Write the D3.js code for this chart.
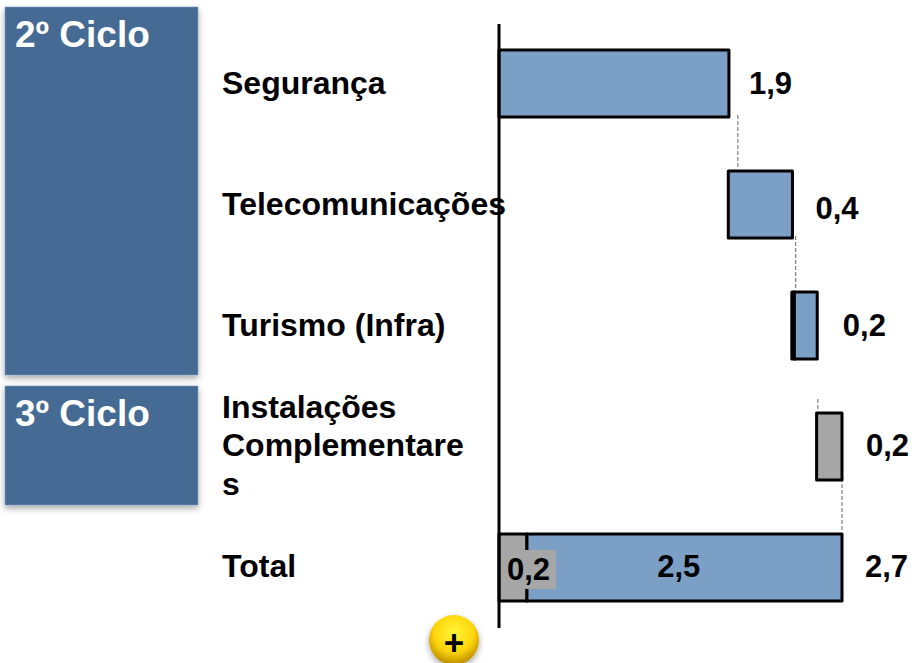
<!DOCTYPE html>
<html>
<head>
<meta charset="utf-8">
<script src="https://cdn.jsdelivr.net/npm/d3@7"></script>
<style>
  html, body { margin: 0; padding: 0; background: #fff; overflow: hidden; }
  text { font-family: "Liberation Sans", Arial, sans-serif; font-weight: bold; }
</style>
</head>
<body>
<div id="chart"></div>
<script>
// Data
const categories = ['Segurança', 'Telecomunicações', 'Turismo (Infra)', 'Instalações Complementares', 'Total'];
const categoryLines = [['Segurança'], ['Telecomunicações'], ['Turismo (Infra)'], ['Instalações', 'Complementare', 's'], ['Total']];
const valueLabels = ['1,9', '0,4', '0,2', '0,2', '2,7'];

// bar segments, in axis units as drawn (the drawn lengths do not quite follow the labels)
const segCategory = ['Segurança', 'Telecomunicações', 'Turismo (Infra)', 'Turismo (Infra)', 'Instalações Complementares', 'Total', 'Total'];
const segStart = [0, 1.805, 2.305, 2.325, 2.5, 0, 0.22];
const segEnd = [1.81, 2.31, 2.33, 2.505, 2.7, 0.22, 2.7];
const segType = ['blue', 'blue', 'dark', 'blue', 'gray', 'gray', 'blue'];

// dashed connectors between steps
const connectorValue = [1.88, 2.335, 2.51, 2.7];
const connectorFrom = ['Segurança', 'Telecomunicações', 'Turismo (Infra)', 'Instalações Complementares'];

const cycleNames = ['2º Ciclo', '3º Ciclo'];

const fills = { blue: '#7C9FC5', gray: '#A6A6A6', dark: '#000' };

const W = 914, H = 663;
const svg = d3.select('#chart').append('svg')
    .attr('width', W)
    .attr('height', H)
    .style('display', 'block');

const defs = svg.append('defs');

const shadow = defs.append('filter').attr('id', 'box-shadow')
    .attr('x', '-10%').attr('y', '-10%').attr('width', '120%').attr('height', '125%');
shadow.append('feDropShadow')
    .attr('dx', 0).attr('dy', 3).attr('stdDeviation', 3)
    .attr('flood-color', '#000').attr('flood-opacity', 0.35);

const ball = defs.append('radialGradient').attr('id', 'ball')
    .attr('cx', '50%').attr('cy', '35%').attr('r', '65%');
ball.append('stop').attr('offset', '0%').attr('stop-color', '#FFF53A');
ball.append('stop').attr('offset', '60%').attr('stop-color', '#FFD60A');
ball.append('stop').attr('offset', '100%').attr('stop-color', '#B98A00');

// Scales
const x = d3.scaleLinear().domain([0, 2.7]).range([499, 842]);
const y = d3.scaleBand().domain(categories).range([50, 601]).paddingInner(0.446).paddingOuter(0);

// Cycle boxes on the left
const boxY = d3.scaleOrdinal().domain(cycleNames).range([7, 386]);
const boxH = d3.scaleOrdinal().domain(cycleNames).range([368, 119]);

svg.selectAll('.cycle-box')
    .data(cycleNames)
    .enter()
    .append('rect')
    .attr('class', 'cycle-box')
    .attr('x', 5)
    .attr('y', d => boxY(d))
    .attr('width', 193)
    .attr('height', d => boxH(d))
    .attr('fill', '#456A94')
    .attr('stroke', '#7F9BBC')
    .attr('stroke-width', 0.6)
    .attr('filter', 'url(#box-shadow)');

svg.selectAll('.cycle-label')
    .data(cycleNames)
    .enter()
    .append('text')
    .attr('class', 'cycle-label')
    .attr('x', 15)
    .attr('y', d => boxY(d) + 40)
    .attr('fill', '#fff')
    .style('font-size', '37px')
    .text(d => d);

// Category labels
const catLabel = svg.selectAll('.cat-label')
    .data(categories)
    .enter()
    .append('text')
    .attr('class', 'cat-label')
    .attr('fill', '#000')
    .style('font-size', '32px');

catLabel.each(function(d, i) {
    const lines = categoryLines[i];
    const lineH = 38.5;
    const top = y(d) + y.bandwidth() / 2 - (lines.length - 1) * lineH / 2 + 10;
    d3.select(this).selectAll('tspan')
        .data(lines)
        .enter()
        .append('tspan')
        .attr('x', 222)
        .attr('y', (l, j) => top + j * lineH)
        .text(l => l);
});

// Connectors
svg.selectAll('.connector')
    .data(connectorValue)
    .enter()
    .append('line')
    .attr('class', 'connector')
    .attr('x1', d => x(d))
    .attr('x2', d => x(d))
    .attr('y1', (d, i) => i === 2 ? y(categories[i + 1]) - 14 : y(connectorFrom[i]) + y.bandwidth() - 2)
    .attr('y2', (d, i) => y(categories[i + 1]) - 2)
    .attr('stroke', '#7F7F7F')
    .attr('stroke-width', 1.2)
    .attr('stroke-dasharray', '4 2');

// Bars
svg.selectAll('.seg')
    .data(segCategory.map((c, i) => i))
    .enter()
    .append('rect')
    .attr('class', 'seg')
    .attr('x', i => x(segStart[i]))
    .attr('y', i => y(segCategory[i]))
    .attr('width', i => x(segEnd[i]) - x(segStart[i]))
    .attr('height', y.bandwidth())
    .attr('fill', i => fills[segType[i]])
    .attr('stroke', '#000')
    .attr('stroke-width', 3)
    .attr('stroke-linejoin', 'round');

// Axis line
svg.append('line')
    .attr('x1', x(0))
    .attr('x2', x(0))
    .attr('y1', 24)
    .attr('y2', 628)
    .attr('stroke', '#000')
    .attr('stroke-width', 3);

// Value labels to the right of each bar
const labelEnd = [1.81, 2.31, 2.51, 2.7, 2.7];
const labelGap = [20, 23, 25, 24, 23];
svg.selectAll('.value-label')
    .data(valueLabels)
    .enter()
    .append('text')
    .attr('class', 'value-label')
    .attr('x', (d, i) => x(labelEnd[i]) + labelGap[i])
    .attr('y', (d, i) => y(categories[i]) + y.bandwidth() / 2 + (i === 1 ? 14 : 10))
    .attr('fill', '#000')
    .style('font-size', '31px')
    .text(d => d);

// Labels inside the total bar
const totalY = y('Total') + y.bandwidth() / 2 + 10;
svg.append('rect')
    .attr('x', 507)
    .attr('y', y('Total') + 16)
    .attr('width', 49)
    .attr('height', 39)
    .attr('fill', fills.gray);
svg.append('text')
    .attr('x', 507)
    .attr('y', totalY + 3)
    .attr('fill', '#000')
    .style('font-size', '31px')
    .text('0,2');
svg.append('text')
    .attr('x', x(1.415))
    .attr('y', totalY)
    .attr('text-anchor', 'middle')
    .attr('fill', '#000')
    .style('font-size', '31px')
    .text('2,5');

// Yellow "+" button
const btn = svg.append('g').attr('transform', 'translate(454,640)');
btn.append('circle')
    .attr('r', 25)
    .attr('fill', 'url(#ball)')
    .attr('filter', 'url(#box-shadow)');
btn.append('text')
    .attr('text-anchor', 'middle')
    .attr('y', 15)
    .attr('fill', '#000')
    .style('font-size', '35px')
    .text('+');
</script>
</body>
</html>
